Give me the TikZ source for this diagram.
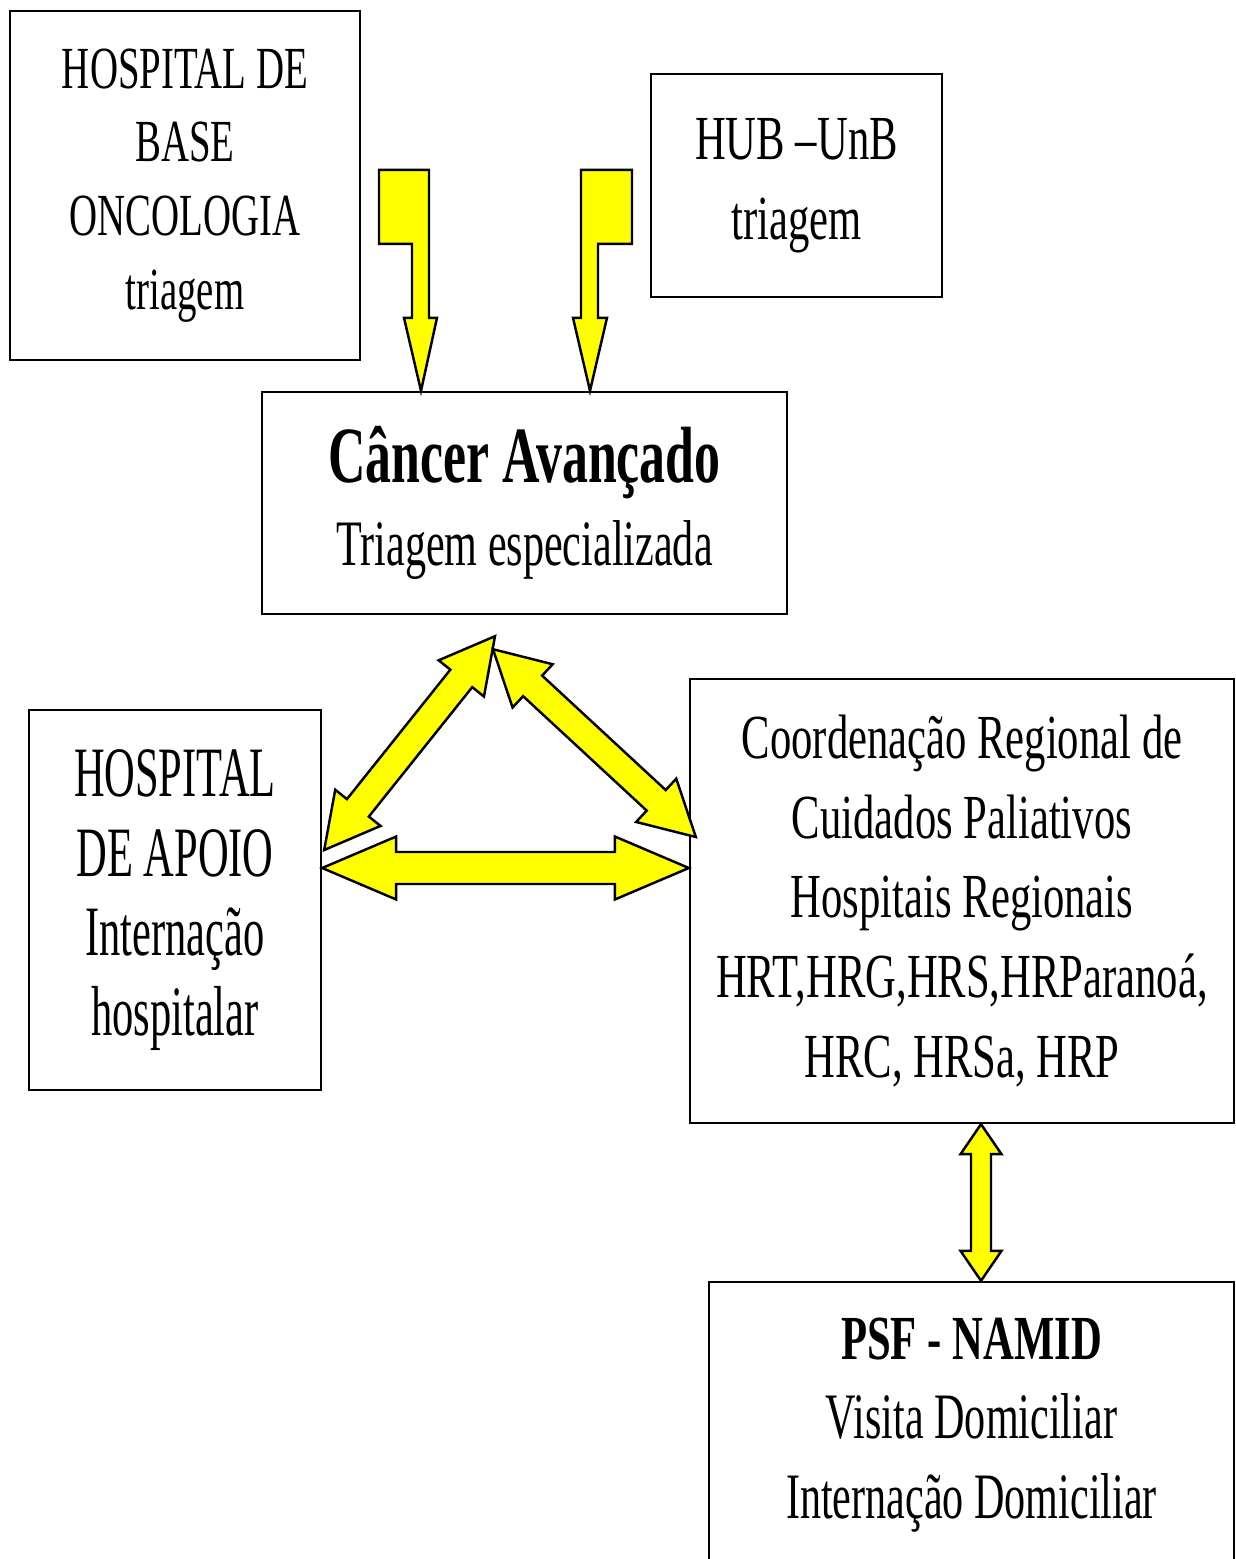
\documentclass[tikz,border=0pt]{standalone}
\usepackage{fontspec}
\setmainfont{Liberation Serif}[FakeStretch=0.68]
\newfontfamily\media{Liberation Serif}[FakeStretch=0.65]
\newfontfamily\estreita{Liberation Serif}[FakeStretch=0.60]
\usetikzlibrary{calc}
\definecolor{amarelo}{RGB}{255,255,0}

\newcommand{\fatarrow}[5]{%
  \path ($(#1)!#5!(#2)$) coordinate (fa1) ($(#2)!#5!(#1)$) coordinate (fa2);
  \draw[fat] (#1) -- ($(fa1)!#4!90:(#1)$) -- ($(fa1)!#3!90:(#1)$)
    -- ($(fa2)!#3!-90:(#2)$) -- ($(fa2)!#4!-90:(#2)$) -- (#2)
    -- ($(fa2)!#4!90:(#2)$) -- ($(fa2)!#3!90:(#2)$)
    -- ($(fa1)!#3!-90:(#1)$) -- ($(fa1)!#4!-90:(#1)$) -- cycle;
}

\begin{document}
\begin{tikzpicture}[x=0.02cm, y=-0.02cm, line width=1.4pt,
  caixa/.style={draw, inner sep=0pt, align=center, font=\fontsize{35.7}{45.4}\selectfont},
  fat/.style={draw, fill=amarelo, line join=miter}]
  \useasboundingbox (0,0) rectangle (1235,1559);
  \clip (0,0) rectangle (1235,1559);

  \node[caixa, minimum width=7cm, minimum height=6.98cm, font=\media\fontsize{34}{42}\selectfont]
    (base) at (185,185.5) {HOSPITAL DE\\BASE\\ONCOLOGIA\\triagem};
  \node[caixa, minimum width=5.82cm, minimum height=4.46cm]
    (hub) at (796.5,185.5) {HUB –UnB\\triagem};
  \node[caixa, minimum width=10.5cm, minimum height=4.44cm, font=\media\fontsize{36.9}{47}\selectfont]
    (cancer) at (524.5,503) {{\bfseries\fontsize{45.4}{47}\selectfont Câncer Avançado}\\Triagem especializada};
  \node[caixa, minimum width=5.84cm, minimum height=7.6cm, font=\estreita\fontsize{40.3}{45.4}\selectfont]
    (apoio) at (175,900) {HOSPITAL\\DE APOIO\\Internação\\hospitalar};
  \node[caixa, minimum width=10.88cm, minimum height=8.88cm]
    (coord) at (962,901) {Coordenação Regional de\\Cuidados Paliativos\\Hospitais Regionais\\HRT,HRG,HRS,HRParanoá,\\HRC, HRSa, HRP};
  \node[caixa, minimum width=10.5cm, minimum height=5.72cm, font=\media\fontsize{36.9}{45.4}\selectfont]
    (psf) at (971.5,1425) {{\rmfamily\bfseries\fontsize{35.7}{45.4}\selectfont PSF - NAMID}\\Visita Domiciliar\\Internação Domiciliar};

  \coordinate (lt) at ($(cancer.north)+(-103.5,0)$);
  \coordinate (rt) at ($(cancer.north)+(65.5,0)$);
  \draw[fat] (lt) -- ++(16,-73) -- ++(-8,0) -- ++(0,-148) -- ++(-50,0)
    -- ++(0,74) -- ++(33,0) -- ++(0,74) -- ++(-8,0) -- cycle;
  \draw[fat] (rt) -- ++(17,-73) -- ++(-9,0) -- ++(0,-74) -- ++(34,0)
    -- ++(0,-74) -- ++(-51,0) -- ++(0,148) -- ++(-8,0) -- cycle;

  \coordinate (d1a) at ($(cancer.south)+(-29.5,21)$);
  \coordinate (d1b) at ($(apoio.east)+(2,-50)$);
  \coordinate (d2a) at ($(cancer.south)+(-31.5,34)$);
  \coordinate (d2b) at ($(coord.west)+(7,-64)$);
  \coordinate (h1) at ($(apoio.east)+(0,-32)$);
  \coordinate (h2) at ($(coord.west)+(0,-33)$);
  \coordinate (v1) at ($(coord.south)+(19,0)$);
  \coordinate (v2) at (v1 |- psf.north);

  \fatarrow{d1a}{d1b}{0.28cm}{0.58cm}{1.08cm}
  \fatarrow{d2a}{d2b}{0.28cm}{0.59cm}{1.08cm}
  \fatarrow{h1}{h2}{0.32cm}{0.63cm}{1.48cm}
  \fatarrow{v1}{v2}{0.2cm}{0.41cm}{0.6cm}
\end{tikzpicture}
\end{document}
